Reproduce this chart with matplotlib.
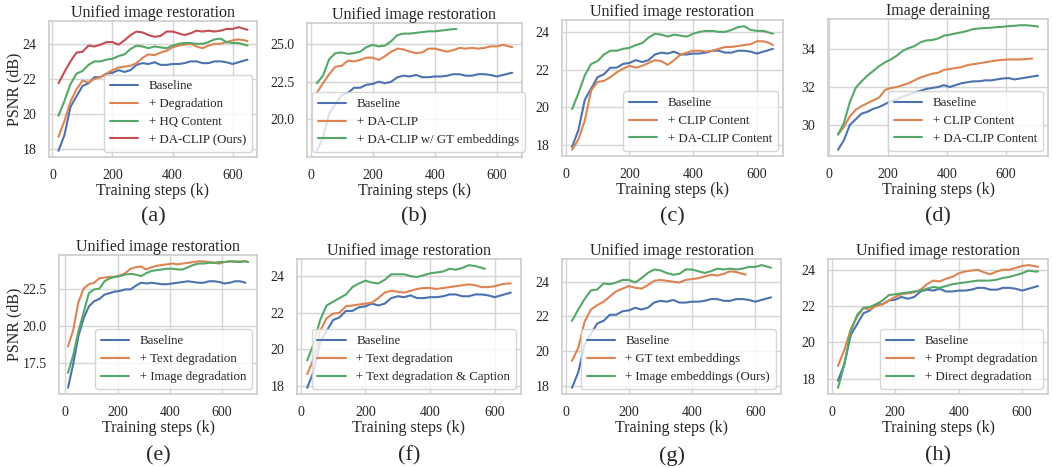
import matplotlib
matplotlib.use("Agg")
import matplotlib.pyplot as plt
import seaborn as sns

sns.set_theme(style="whitegrid")
plt.rcParams['font.family'] = ['Liberation Serif', 'DejaVu Serif']
plt.rcParams['mathtext.fontset'] = 'stix'

C_BLUE, C_ORANGE, C_GREEN, C_RED = "#4C72B0", "#DD8452", "#55A868", "#C44E52"

# ---------------- data ----------------
steps = [20, 40, 60, 80, 100, 120, 140, 160, 180, 200, 220, 240, 260, 280, 300, 320,
         340, 360, 380, 400, 420, 440, 460, 480, 500, 520, 540, 560, 580, 600, 620, 640, 650]

baseline = [17.9, 18.8, 20.4, 21.0, 21.6, 21.75, 22.1, 22.1, 22.3, 22.35, 22.5, 22.4, 22.5, 22.8,
            22.9, 22.85, 22.95, 22.8, 22.8, 22.85, 22.85, 22.9, 23.0, 23.0, 22.9, 22.9, 23.0,
            23.0, 22.95, 22.85, 22.95, 23.05, 23.1]

da_clip = [21.75, 22.4, 23.0, 23.5, 23.55, 23.9, 23.85, 23.95, 24.1, 24.1, 23.95, 24.2, 24.5,
           24.7, 24.65, 24.5, 24.4, 24.45, 24.7, 24.7, 24.6, 24.5, 24.6, 24.75, 24.7, 24.75,
           24.7, 24.75, 24.85, 24.85, 24.95, 24.85, 24.8]

degradation = [18.7, 19.6, 20.7, 21.4, 21.9, 21.8, 22.0, 22.1, 22.3, 22.5, 22.65, 22.7, 22.75,
               22.9, 23.2, 23.4, 23.35, 23.5, 23.6, 23.8, 23.9, 23.95, 24.0, 23.85, 23.75, 23.9,
               24.0, 24.0, 24.1, 24.2, 24.25, 24.2, 24.15]

hq_content = [19.9, 20.75, 21.7, 22.3, 22.45, 22.8, 23.0, 23.0, 23.1, 23.15, 23.3, 23.4, 23.7,
              23.9, 23.85, 23.75, 23.85, 23.8, 23.75, 23.9, 24.0, 24.05, 24.05, 24.0, 24.0, 24.1,
              24.25, 24.3, 24.1, 24.05, 24.05, 23.95, 23.9]

gt_steps = [20, 40, 60, 80, 100, 120, 140, 160, 180, 200, 220, 240, 260, 280, 300, 320, 340,
            360, 380, 400, 420, 440, 460, 470]
gt_embed = [22.4, 22.9, 24.0, 24.4, 24.45, 24.35, 24.4, 24.5, 24.8, 24.95, 24.85, 24.9, 25.2,
            25.6, 25.7, 25.7, 25.75, 25.8, 25.85, 25.85, 25.9, 25.95, 26.0, 26.0]

clip_content = [17.75, 18.3, 19.3, 20.9, 21.35, 21.4, 21.6, 21.85, 22.05, 22.2, 22.1, 22.2, 22.35,
                22.5, 22.45, 22.25, 22.5, 22.8, 22.9, 23.0, 23.0, 22.95, 23.0, 23.1, 23.2, 23.2,
                23.25, 23.3, 23.35, 23.5, 23.5, 23.4, 23.3]

derain_steps = [30, 50, 70, 90, 110, 130, 150, 170, 190, 210, 230, 250, 270, 290, 310, 330, 350,
                370, 390, 410, 430, 450, 470, 490, 510, 530, 550, 570, 590, 610, 630, 650, 670,
                690, 710]
derain_base = [28.7, 29.2, 30.0, 30.3, 30.6, 30.7, 30.85, 30.95, 31.1, 31.25, 31.35, 31.5, 31.6,
               31.7, 31.8, 31.9, 31.95, 32.0, 32.1, 32.0, 32.1, 32.2, 32.25, 32.3, 32.3, 32.35,
               32.35, 32.4, 32.45, 32.47, 32.4, 32.45, 32.5, 32.55, 32.6]
derain_clip = [29.5, 29.9, 30.45, 30.8, 31.0, 31.15, 31.3, 31.45, 31.85, 31.95, 32.0, 32.1, 32.2,
               32.35, 32.5, 32.6, 32.7, 32.75, 32.9, 32.95, 33.0, 33.05, 33.15, 33.2, 33.25, 33.3,
               33.35, 33.4, 33.43, 33.45, 33.45, 33.45, 33.47, 33.5]
derain_daclip = [29.5, 30.1, 31.2, 31.95, 32.3, 32.6, 32.85, 33.1, 33.3, 33.45, 33.65, 33.9, 34.05,
                 34.15, 34.35, 34.45, 34.47, 34.55, 34.7, 34.75, 34.82, 34.88, 34.95, 35.05, 35.08,
                 35.1, 35.12, 35.15, 35.17, 35.2, 35.22, 35.25, 35.25, 35.22, 35.18]

e_steps = [10, 30, 50, 70, 90, 110, 130, 150, 170, 190, 210, 230, 250, 270, 290, 310, 330, 350,
           370, 390, 410, 430, 450, 470, 490, 510, 530, 550, 570, 590, 610, 630, 650, 670, 690]
e_steps_long = e_steps + [700]
e_baseline = [15.8, 17.4, 19.3, 20.5, 21.3, 21.65, 21.8, 22.1, 22.2, 22.3, 22.35, 22.45, 22.45,
              22.7, 22.9, 22.85, 22.9, 22.85, 22.8, 22.8, 22.85, 22.9, 22.95, 23.0, 22.95, 22.9,
              22.9, 23.0, 23.0, 22.95, 22.85, 22.9, 23.0, 23.0, 22.9]
e_text_deg = [18.6, 19.7, 21.6, 22.5, 22.8, 22.9, 23.2, 23.25, 23.3, 23.3, 23.4, 23.55, 23.85,
              23.95, 24.0, 23.8, 23.95, 24.05, 24.1, 24.15, 24.2, 24.15, 24.2, 24.25, 24.3, 24.35,
              24.35, 24.3, 24.25, 24.2, 24.3, 24.35, 24.3, 24.35, 24.35, 24.3]
e_image_deg = [16.8, 18.0, 19.6, 20.9, 22.2, 22.45, 22.5, 23.0, 23.2, 23.3, 23.35, 23.45, 23.5,
               23.45, 23.35, 23.55, 23.7, 23.75, 23.8, 23.85, 23.85, 23.8, 23.8, 23.95, 24.1, 24.2,
               24.2, 24.25, 24.25, 24.3, 24.3, 24.35, 24.35, 24.3, 24.35, 24.3]

text_deg = [18.65, 19.5, 21.0, 21.7, 21.95, 22.0, 22.35, 22.4, 22.45, 22.5, 22.55, 22.8, 23.1,
            23.2, 23.15, 23.1, 23.2, 23.3, 23.35, 23.35, 23.3, 23.35, 23.4, 23.45, 23.5, 23.55,
            23.5, 23.4, 23.4, 23.45, 23.55, 23.6, 23.6]

short_steps = [20, 40, 60, 80, 100, 120, 140, 160, 180, 200, 220, 240, 260, 280, 300, 320, 340,
               360, 380, 400, 420, 440, 460, 480, 500, 520, 540, 560, 570]
text_caption = [19.4, 20.3, 21.6, 22.4, 22.6, 22.8, 23.0, 23.4, 23.6, 23.75, 23.65, 23.6, 23.8,
                24.1, 24.1, 24.1, 24.0, 23.95, 24.05, 24.15, 24.2, 24.25, 24.4, 24.35, 24.45, 24.6,
                24.55, 24.45, 24.4]
gt_text_embed = [19.45, 20.2, 21.7, 22.4, 22.65, 22.85, 23.15, 23.45, 23.6, 23.75, 23.65, 23.6,
                 23.8, 24.05, 24.1, 24.05, 24.0, 23.95, 24.1, 24.15, 24.2, 24.3, 24.4, 24.35, 24.45,
                 24.6, 24.55, 24.45, 24.4]

direct_deg = [17.5, 18.8, 20.6, 21.5, 21.9, 21.95, 22.1, 22.3, 22.6, 22.65, 22.7, 22.75, 22.8,
              22.85, 22.95, 23.05, 23.0, 23.1, 23.2, 23.25, 23.3, 23.35, 23.4, 23.4, 23.4, 23.45,
              23.55, 23.6, 23.7, 23.8, 23.95, 23.9, 23.9]

panel_titles = ["Unified image restoration"] * 3 + ["Image deraining"] + ["Unified image restoration"] * 4
panel_tags = ["(a)", "(b)", "(c)", "(d)", "(e)", "(f)", "(g)", "(h)"]

panels = [
    [(steps, baseline, "Baseline", C_BLUE), (steps, degradation, "+ Degradation", C_ORANGE),
     (steps, hq_content, "+ HQ Content", C_GREEN), (steps, da_clip, "+ DA-CLIP (Ours)", C_RED)],
    [(steps, baseline, "Baseline", C_BLUE), (steps, da_clip, "+ DA-CLIP", C_ORANGE),
     (gt_steps, gt_embed, "+ DA-CLIP w/ GT embeddings", C_GREEN)],
    [(steps, baseline, "Baseline", C_BLUE), (steps, clip_content, "+ CLIP Content", C_ORANGE),
     (steps, hq_content, "+ DA-CLIP Content", C_GREEN)],
    [(derain_steps, derain_base, "Baseline", C_BLUE), (derain_steps[:-1], derain_clip, "+ CLIP Content", C_ORANGE),
     (derain_steps, derain_daclip, "+ DA-CLIP Content", C_GREEN)],
    [(e_steps, e_baseline, "Baseline", C_BLUE), (e_steps_long, e_text_deg, "+ Text degradation", C_ORANGE),
     (e_steps_long, e_image_deg, "+ Image degradation", C_GREEN)],
    [(steps, baseline, "Baseline", C_BLUE), (steps, text_deg, "+ Text degradation", C_ORANGE),
     (short_steps, text_caption, "+ Text degradation & Caption", C_GREEN)],
    [(steps, baseline, "Baseline", C_BLUE), (short_steps, gt_text_embed, "+ GT text embeddings", C_ORANGE),
     (steps, da_clip, "+ Image embeddings (Ours)", C_GREEN)],
    [(steps, baseline, "Baseline", C_BLUE), (steps, degradation, "+ Prompt degradation", C_ORANGE),
     (steps, direct_deg, "+ Direct degradation", C_GREEN)],
]

yticks = [[18, 20, 22, 24], [20.0, 22.5, 25.0], [18, 20, 22, 24], [30, 32, 34],
          [17.5, 20.0, 22.5], [18, 20, 22, 24], [18, 20, 22, 24], [18, 20, 22, 24]]
ytick_fmt = ["%d", "%.1f", "%d", "%d", "%.1f", "%d", "%d", "%d"]
legend_locs = ["lower right", "lower left", "lower right", "lower right",
               "lower right", "lower right", "lower right", "lower right"]

# pixel boxes: x0, x1, y0 (top), y1 (bottom)
W, H = 1052, 468
boxes = [(49, 257, 21, 157), (307, 522, 23, 157), (562, 783, 20, 156), (828, 1048, 19, 156),
         (59, 257, 255, 394), (297, 521, 259, 394), (562, 781, 259, 394), (828, 1048, 259, 394)]

fig = plt.figure(figsize=(W / 100, H / 100), dpi=100)

for i, (x0, x1, y0, y1) in enumerate(boxes):
    ax = fig.add_axes([x0 / W, 1 - y1 / H, (x1 - x0) / W, (y1 - y0) / H])
    for xs, ys, lab, col in panels[i]:
        ax.plot(xs, ys, color=col, lw=1.5, label=lab)
    ax.set_title(panel_titles[i], fontsize=11.5, pad=3)
    ax.set_xticks([0, 200, 400, 600])
    ax.set_yticks(yticks[i])
    ax.set_yticklabels([ytick_fmt[i] % v for v in yticks[i]])
    ax.tick_params(labelsize=10, pad=3)
    ax.set_xlabel("Training steps (k)", fontsize=11.5, labelpad=0.5)
    for s in ax.spines.values():
        s.set_color("#cccccc")
        s.set_linewidth(1.2)
    ax.grid(color="#d5d5d5", lw=1.0)
    leg = ax.legend(loc=legend_locs[i], fontsize=9.3, framealpha=0.8, handlelength=2.2,
                    labelspacing=0.45, borderpad=0.45, borderaxespad=0.4)
    leg.get_frame().set_edgecolor("#cccccc")
    cx = (x0 + x1) / 2 / W
    ty = 217 if i < 4 else 456
    fig.text(cx, 1 - ty / H, panel_tags[i], fontsize=16, ha="center", va="center")
    if i in (0, 4):
        fig.text(14 / W, 1 - (y0 + y1) / 2 / H, "PSNR (dB)", fontsize=11.5, rotation=90,
                 ha="center", va="center")

fig.savefig("out.png", dpi=100)
